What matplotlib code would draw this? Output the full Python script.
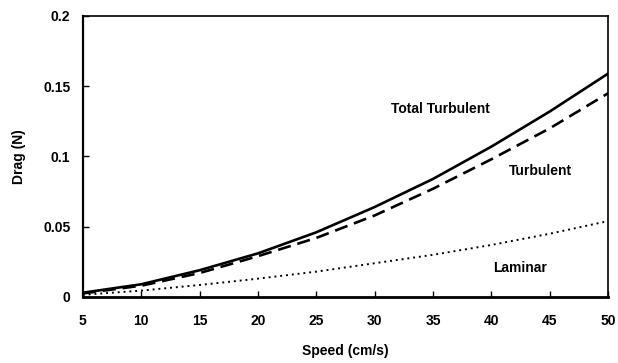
import matplotlib
matplotlib.use("Agg")
import matplotlib.pyplot as plt

# values
speed = [5, 10, 15, 20, 25, 30, 35, 40, 45, 50]
total_turbulent = [0.003, 0.009, 0.019, 0.031, 0.046, 0.064, 0.084, 0.107, 0.132, 0.159]
turbulent = [0.0025, 0.008, 0.017, 0.029, 0.042, 0.058, 0.077, 0.098, 0.120, 0.145]
laminar = [0.0015, 0.0045, 0.0085, 0.013, 0.018, 0.024, 0.030, 0.037, 0.045, 0.054]

xticks = [5, 10, 15, 20, 25, 30, 35, 40, 45, 50]
yticks = [0, 0.05, 0.1, 0.15, 0.2]
yticklabels = ["0", "0.05", "0.1", "0.15", "0.2"]

plt.rcParams["font.family"] = ["Liberation Sans", "DejaVu Sans"]
plt.rcParams["font.weight"] = "bold"

fig = plt.figure(figsize=(6.18, 3.63), dpi=100)
ax = fig.add_axes([0.134, 0.182, 0.850, 0.774])

ax.plot(speed, total_turbulent, color="black", linewidth=1.9, linestyle="-")
ax.plot(speed, turbulent, color="black", linewidth=1.9, linestyle=(0, (5, 2.6)))
ax.plot(speed, laminar, color="black", linewidth=1.4, linestyle=(0, (1, 2)))

ax.text(35.6, 0.1336, "Total Turbulent", ha="center", va="center", fontsize=10, fontweight="bold")
ax.text(44.2, 0.0893, "Turbulent", ha="center", va="center", fontsize=10, fontweight="bold")
ax.text(42.5, 0.0207, "Laminar", ha="center", va="center", fontsize=10, fontweight="bold")

ax.set_xlim(5, 50)
ax.set_ylim(0, 0.2)
ax.set_xticks(xticks)
ax.set_yticks(yticks)
ax.set_yticklabels(yticklabels)
ax.tick_params(direction="in", length=4, width=1, labelsize=10)
ax.tick_params(axis="x", pad=12)
ax.tick_params(axis="y", pad=9)
for s in ax.spines.values():
    s.set_linewidth(1.2)
ax.spines["bottom"].set_linewidth(2.0)
ax.spines["left"].set_linewidth(1.6)

ax.set_xlabel("Speed (cm/s)", fontsize=10, fontweight="bold", labelpad=12)
ax.set_ylabel("Drag (N)", fontsize=10, fontweight="bold", labelpad=12)

fig.savefig("out.png", dpi=100)
